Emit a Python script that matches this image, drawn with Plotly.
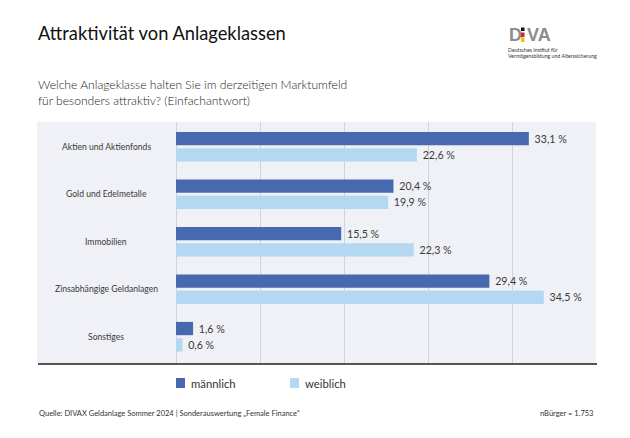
import plotly.graph_objects as go

categories = ["Aktien und Aktienfonds", "Gold und Edelmetalle", "Immobilien",
              "Zinsabhängige Geldanlagen", "Sonstiges"]
maennlich = [33.1, 20.4, 15.5, 29.4, 1.6]
weiblich = [22.6, 19.9, 22.3, 34.5, 0.6]
series_names = ["männlich", "weiblich"]

DARK = "#4869b0"
LIGHT = "#b4d7f2"
PANEL = "#eff1f6"
FONT = "Lato"
TXT = "#333333"
TXT_L = "#1c1c1c"

# page body adds an 8px offset; compensate
OFF = 8
W, H = 630 - OFF, 438 - OFF
L, R, T, B = 176, 596, 122, 364   # plot area in window coordinates


def px(x):
    return (x - L) / (R - L)


def py(y):
    return (B - y) / (B - T)


def fmt(v):
    return "\u00a0" + f"{v:.1f}".replace(".", ",") + " %"


def f(size, color=TXT, weight=400, family=FONT):
    return dict(family=family, size=size, color=color, weight=weight)


fig = go.Figure()
for name, vals, col in [(series_names[0], maennlich, DARK), (series_names[1], weiblich, LIGHT)]:
    fig.add_trace(go.Bar(
        y=categories, x=vals, name=name, orientation="h",
        marker=dict(color=col, line=dict(width=0)),
        text=[fmt(v) for v in vals], textposition="outside",
        textfont=f(12, "#3a3a3a"),
        cliponaxis=False, showlegend=False, hoverinfo="skip",
    ))

annotations = []
for c in categories:
    annotations.append(dict(x=px(106), y=c, xref="paper", yref="y", text=c,
                            showarrow=False, xanchor="center", yanchor="middle",
                            font=f(8.6, "#3a3a3a")))

annotations += [
    dict(x=px(36), y=py(33), xref="paper", yref="paper", text="Attraktivität von Anlageklassen",
         showarrow=False, xanchor="left", yanchor="middle",
         font=f(18.3, "#111111", 400)),
    dict(x=px(36), y=py(84), xref="paper", yref="paper",
         text="Welche Anlageklasse halten Sie im derzeitigen Marktumfeld",
         showarrow=False, xanchor="left", yanchor="middle", font=f(12.1, TXT_L, 300)),
    dict(x=px(36), y=py(101), xref="paper", yref="paper",
         text="für besonders attraktiv? (Einfachantwort)",
         showarrow=False, xanchor="left", yanchor="middle", font=f(12.1, TXT_L, 300)),
    # logo
    dict(x=px(507), y=py(35), xref="paper", yref="paper", text="<b>D</b>",
         showarrow=False, xanchor="left", yanchor="middle",
         font=f(18, "#8c8c8c", 700, "Liberation Sans")),
    dict(x=px(525), y=py(35), xref="paper", yref="paper", text="<b>VA</b>",
         showarrow=False, xanchor="left", yanchor="middle",
         font=f(18, "#8c8c8c", 700, "Liberation Sans")),
    dict(x=px(506), y=py(50), xref="paper", yref="paper", text="Deutsches Institut für",
         showarrow=False, xanchor="left", yanchor="middle", font=f(5.2)),
    dict(x=px(506), y=py(56), xref="paper", yref="paper",
         text="Vermögensbildung und Alterssicherung",
         showarrow=False, xanchor="left", yanchor="middle", font=f(5.2)),
    # legend
    dict(x=px(189), y=py(383), xref="paper", yref="paper", text=series_names[0],
         showarrow=False, xanchor="left", yanchor="middle", font=f(11.3)),
    dict(x=px(303), y=py(383), xref="paper", yref="paper", text=series_names[1],
         showarrow=False, xanchor="left", yanchor="middle", font=f(11.3)),
    # footer
    dict(x=px(37), y=py(413), xref="paper", yref="paper",
         text="Quelle: DIVAX Geldanlage Sommer 2024 | Sonderauswertung „Female Finance“",
         showarrow=False, xanchor="left", yanchor="middle", font=f(7.5)),
    dict(x=px(595), y=py(413), xref="paper", yref="paper", text="nBürger = 1.753",
         showarrow=False, xanchor="right", yanchor="middle", font=f(7.5)),
]

shapes = [
    dict(type="rect", xref="paper", yref="paper", x0=px(37), x1=px(596), y0=py(364), y1=py(122),
         fillcolor=PANEL, line=dict(width=0), layer="below"),
    dict(type="line", xref="paper", yref="paper", x0=px(38), x1=px(597), y0=py(364), y1=py(364),
         line=dict(color="#555555", width=2)),
    dict(type="rect", xref="paper", yref="paper", x0=px(176), x1=px(185), y0=py(388), y1=py(378),
         fillcolor=DARK, line=dict(width=0)),
    dict(type="rect", xref="paper", yref="paper", x0=px(290), x1=px(299), y0=py(388), y1=py(378),
         fillcolor=LIGHT, line=dict(width=0)),
    dict(type="rect", xref="paper", yref="paper", x0=px(521), x1=px(524.5), y0=py(31), y1=py(27.5),
         fillcolor="#111111", line=dict(width=0)),
    dict(type="rect", xref="paper", yref="paper", x0=px(521), x1=px(524.5), y0=py(37), y1=py(32.5),
         fillcolor="#d9211d", line=dict(width=0)),
    dict(type="rect", xref="paper", yref="paper", x0=px(521), x1=px(524.5), y0=py(42), y1=py(37.5),
         fillcolor="#f2c100", line=dict(width=0)),
]

fig.update_layout(
    width=W, height=H, autosize=False,
    margin=dict(l=L - OFF, r=W - (R - OFF), t=T - OFF, b=H - (B - OFF), pad=0),
    paper_bgcolor="white", plot_bgcolor=PANEL,
    barmode="group", bargap=0.314, bargroupgap=0.184,
    font=dict(family=FONT),
    annotations=annotations, shapes=shapes,
    xaxis=dict(range=[0, 39.4], dtick=7.88, tick0=0, showticklabels=False,
               showgrid=True, gridcolor="#d0d3db", gridwidth=1,
               zeroline=True, zerolinecolor="#d0d3db", zerolinewidth=1,
               showline=False, fixedrange=True),
    yaxis=dict(type="category", range=[4.575, -0.52], showticklabels=False,
               showgrid=False, zeroline=False, showline=False, fixedrange=True),
)

fig.write_html("out.html")
